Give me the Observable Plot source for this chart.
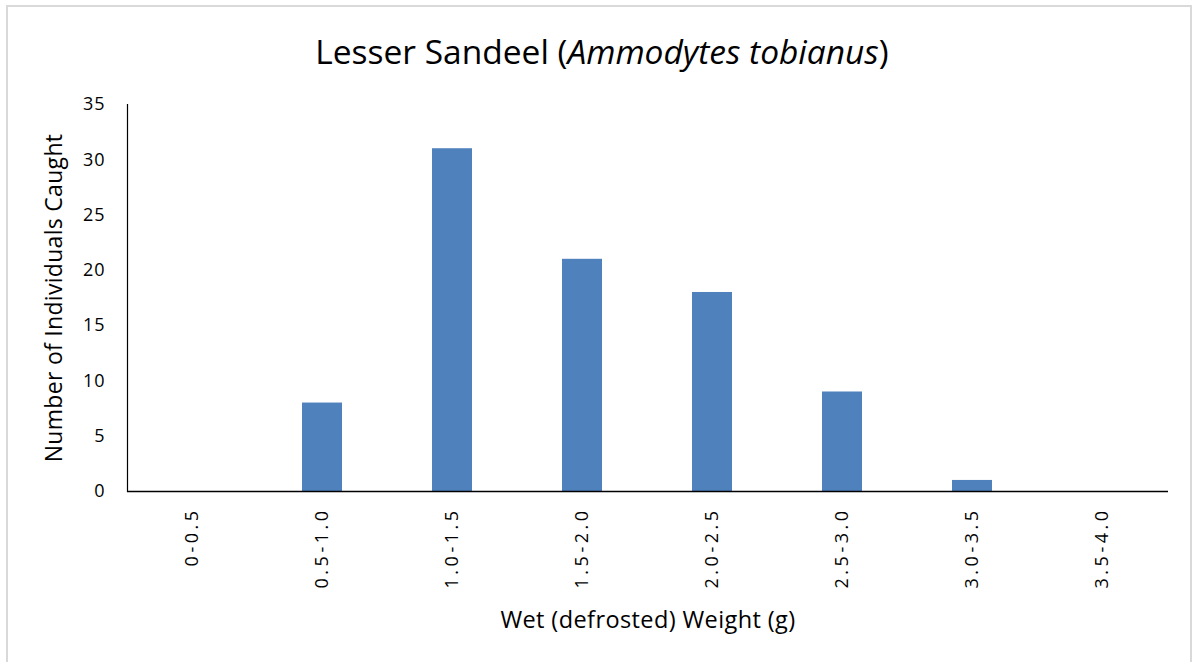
<!DOCTYPE html>
<html>
<head>
<meta charset="utf-8">
<script src="https://cdn.jsdelivr.net/npm/d3@7"></script>
<script src="https://cdn.jsdelivr.net/npm/@observablehq/plot@0.6"></script>
<style>
  html, body { margin: 0; padding: 0; background: #fff; }
  #wrap { position: relative; width: 1194px; height: 662px; overflow: hidden; font-family: "Open Sans", Lato, sans-serif; color: #000; }
  #border { position: absolute; left: 6px; top: 5px; width: 1186px; height: 670px; border: 2px solid #d9d9d9; box-sizing: border-box; }
  #title { position: absolute; left: 0; width: 1204px; top: 31px; text-align: center; font-size: 33.5px; line-height: 40px; white-space: nowrap; }
  #chart { position: absolute; left: 0; top: 0; }
  #chart svg g[aria-label="x-axis tick label"] text { letter-spacing: 3.5px; }
  #chart svg g[aria-label="y-axis tick label"] text { letter-spacing: 1px; }
  #chart svg g.xlab text { letter-spacing: 0.4px; }
  #chart svg g.ylab text { letter-spacing: 0.3px; }
</style>
</head>
<body>
<div id="wrap">
  <div id="border"></div>
  <div id="title">Lesser Sandeel (<i>Ammodytes tobianus</i>)</div>
  <div id="chart"></div>
</div>
<script>
const categories = ["0-0.5", "0.5-1.0", "1.0-1.5", "1.5-2.0", "2.0-2.5", "2.5-3.0", "3.0-3.5", "3.5-4.0"];
const counts = [0, 8, 31, 21, 18, 9, 1, 0];
const yTicks = [0, 5, 10, 15, 20, 25, 30, 35];
const xLabel = "Wet (defrosted) Weight (g)";
const yLabel = "Number of Individuals Caught";

const data = categories.map((c, i) => ({bin: c, count: counts[i]}));

const chart = Plot.plot({
  width: 1194,
  height: 662,
  marginTop: 104,
  marginBottom: 171,
  marginLeft: 127,
  marginRight: 26,
  style: {fontFamily: "'Open Sans', Lato, sans-serif", color: "#000", background: "transparent"},
  x: {domain: categories, paddingInner: 0.69, paddingOuter: 0.345, label: null},
  y: {domain: [0, 35], label: null},
  marks: [
    Plot.barY(data, {x: "bin", y: "count", fill: "#4F81BD"}),
    Plot.ruleY([0], {stroke: "#000", strokeWidth: 1.5}),
    Plot.frame({anchor: "left", stroke: "#000", strokeWidth: 1.2}),
    Plot.axisY(yTicks, {tickSize: 0, tickPadding: 22, fontSize: 18, label: null}),
    Plot.axisX({tickSize: 0, tickPadding: 16, tickRotate: -90, fontSize: 18, label: null}),
    Plot.text([xLabel], {frameAnchor: "bottom", dy: 136, fontSize: 23.5, lineAnchor: "bottom", className: "xlab"}),
    Plot.text([yLabel], {frameAnchor: "left", textAnchor: "middle", dx: -73, rotate: -90, fontSize: 23, className: "ylab"})
  ]
});
document.getElementById("chart").appendChild(chart);
</script>
</body>
</html>
